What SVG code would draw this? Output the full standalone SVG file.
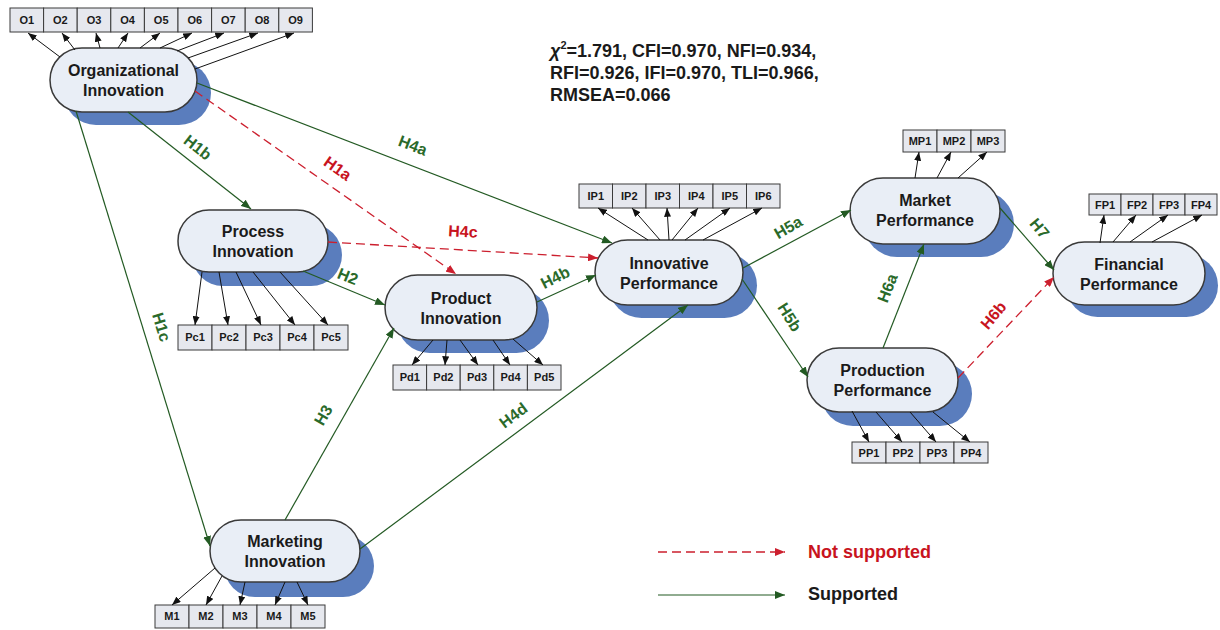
<svg xmlns="http://www.w3.org/2000/svg" width="1220" height="630" viewBox="0 0 1220 630">
<defs>
<marker id="ab" viewBox="0 0 10 8" refX="10" refY="4" markerWidth="9" markerHeight="7" markerUnits="userSpaceOnUse" orient="auto"><path d="M0,0 L10,4 L0,8 z" fill="#111"/></marker>
<marker id="ag" viewBox="0 0 10 8" refX="10" refY="4" markerWidth="10" markerHeight="8" markerUnits="userSpaceOnUse" orient="auto"><path d="M0,0 L10,4 L0,8 z" fill="#235a23"/></marker>
<marker id="ar" viewBox="0 0 10 8" refX="10" refY="4" markerWidth="10" markerHeight="8" markerUnits="userSpaceOnUse" orient="auto"><path d="M0,0 L10,4 L0,8 z" fill="#cc1f2e"/></marker>
</defs>
<style>
text{font-family:"Liberation Sans",Arial,sans-serif;font-weight:bold}
.sh{fill:#5a7dbd}
.nd{fill:#e9eef6;stroke:#3a3a3a;stroke-width:1.5}
.nt{font-size:16px;fill:#1a1a1a;text-anchor:middle}
.bx{fill:#e6e8ee;stroke:#3a3a3a;stroke-width:1}
.bt{font-size:11px;fill:#1a1a1a;text-anchor:middle}
.ind{stroke:#111;stroke-width:1;fill:none;marker-end:url(#ab)}
.sup{stroke:#235a23;stroke-width:1.2;fill:none;marker-end:url(#ag)}
.ns{stroke:#cc1f2e;stroke-width:1.3;fill:none;stroke-dasharray:9 5;marker-end:url(#ar)}
.lg{font-size:16px;fill:#2a6a2a;text-anchor:middle}
.lr{font-size:16px;fill:#c8141e;text-anchor:middle}
.st{font-size:18px;fill:#1a1a1a}
</style>
<rect width="1220" height="630" fill="#fff"/>

<g id="stats">
<text class="st" x="550" y="57"><tspan font-style="italic">χ</tspan><tspan font-size="11" dy="-8">2</tspan><tspan dy="8">=1.791, CFI=0.970, NFI=0.934,</tspan></text>
<text class="st" x="550" y="79">RFI=0.926, IFI=0.970, TLI=0.966,</text>
<text class="st" x="550" y="101">RMSEA=0.066</text>
</g>

<g id="node-org">
<rect class="sh" x="64" y="61" width="147" height="64" rx="32"/>
<rect class="nd" x="50" y="48" width="147" height="64" rx="32"/>
<text class="nt" x="123.5" y="76">Organizational</text>
<text class="nt" x="123.5" y="96">Innovation</text>
<g id="ind-O">
<rect class="bx" x="10" y="8" width="33.6" height="24"/><text class="bt" x="26.8" y="24">O1</text>
<rect class="bx" x="43.6" y="8" width="33.6" height="24"/><text class="bt" x="60.4" y="24">O2</text>
<rect class="bx" x="77.2" y="8" width="33.6" height="24"/><text class="bt" x="94" y="24">O3</text>
<rect class="bx" x="110.8" y="8" width="33.6" height="24"/><text class="bt" x="127.6" y="24">O4</text>
<rect class="bx" x="144.4" y="8" width="33.6" height="24"/><text class="bt" x="161.2" y="24">O5</text>
<rect class="bx" x="178" y="8" width="33.6" height="24"/><text class="bt" x="194.8" y="24">O6</text>
<rect class="bx" x="211.6" y="8" width="33.6" height="24"/><text class="bt" x="228.4" y="24">O7</text>
<rect class="bx" x="245.2" y="8" width="33.6" height="24"/><text class="bt" x="262" y="24">O8</text>
<rect class="bx" x="278.8" y="8" width="33.6" height="24"/><text class="bt" x="295.6" y="24">O9</text>
</g>
</g>

<g id="node-process">
<rect class="sh" x="192" y="224" width="150" height="62" rx="31"/>
<rect class="nd" x="178" y="210" width="150" height="62" rx="31"/>
<text class="nt" x="253" y="237">Process</text>
<text class="nt" x="253" y="257">Innovation</text>
<rect class="bx" x="178" y="325" width="34" height="25"/><text class="bt" x="195" y="341">Pc1</text>
<rect class="bx" x="212" y="325" width="34" height="25"/><text class="bt" x="229" y="341">Pc2</text>
<rect class="bx" x="246" y="325" width="34" height="25"/><text class="bt" x="263" y="341">Pc3</text>
<rect class="bx" x="280" y="325" width="34" height="25"/><text class="bt" x="297" y="341">Pc4</text>
<rect class="bx" x="314" y="325" width="34" height="25"/><text class="bt" x="331" y="341">Pc5</text>
</g>

<g id="node-product">
<rect class="sh" x="397" y="288" width="152" height="65" rx="32.5"/>
<rect class="nd" x="385" y="275" width="152" height="65" rx="32.5"/>
<text class="nt" x="461" y="303.5">Product</text>
<text class="nt" x="461" y="323.5">Innovation</text>
<rect class="bx" x="393" y="365" width="33.6" height="25"/><text class="bt" x="409.8" y="381">Pd1</text>
<rect class="bx" x="426.6" y="365" width="33.6" height="25"/><text class="bt" x="443.4" y="381">Pd2</text>
<rect class="bx" x="460.2" y="365" width="33.6" height="25"/><text class="bt" x="477" y="381">Pd3</text>
<rect class="bx" x="493.8" y="365" width="33.6" height="25"/><text class="bt" x="510.6" y="381">Pd4</text>
<rect class="bx" x="527.4" y="365" width="33.6" height="25"/><text class="bt" x="544.2" y="381">Pd5</text>
</g>

<g id="node-innovative">
<rect class="sh" x="609" y="253" width="148" height="65" rx="32.5"/>
<rect class="nd" x="595" y="240" width="148" height="65" rx="32.5"/>
<text class="nt" x="669" y="268.5">Innovative</text>
<text class="nt" x="669" y="288.5">Performance</text>
<rect class="bx" x="579" y="184" width="33.5" height="24"/><text class="bt" x="595.75" y="200">IP1</text>
<rect class="bx" x="612.5" y="184" width="33.5" height="24"/><text class="bt" x="629.25" y="200">IP2</text>
<rect class="bx" x="646" y="184" width="33.5" height="24"/><text class="bt" x="662.75" y="200">IP3</text>
<rect class="bx" x="679.5" y="184" width="33.5" height="24"/><text class="bt" x="696.25" y="200">IP4</text>
<rect class="bx" x="713" y="184" width="33.5" height="24"/><text class="bt" x="729.75" y="200">IP5</text>
<rect class="bx" x="746.5" y="184" width="33.5" height="24"/><text class="bt" x="763.25" y="200">IP6</text>
</g>

<g id="node-market">
<rect class="sh" x="864" y="191" width="150" height="66" rx="33"/>
<rect class="nd" x="850" y="178" width="150" height="66" rx="33"/>
<text class="nt" x="925" y="206">Market</text>
<text class="nt" x="925" y="226">Performance</text>
<rect class="bx" x="903" y="130" width="34" height="22"/><text class="bt" x="920" y="145">MP1</text>
<rect class="bx" x="937" y="130" width="34" height="22"/><text class="bt" x="954" y="145">MP2</text>
<rect class="bx" x="971" y="130" width="34" height="22"/><text class="bt" x="988" y="145">MP3</text>
</g>

<g id="node-financial">
<rect class="sh" x="1066" y="254" width="152" height="63" rx="31.5"/>
<rect class="nd" x="1053" y="242" width="152" height="63" rx="31.5"/>
<text class="nt" x="1129" y="269.5">Financial</text>
<text class="nt" x="1129" y="289.5">Performance</text>
<rect class="bx" x="1089" y="194" width="32" height="21"/><text class="bt" x="1105" y="208.5">FP1</text>
<rect class="bx" x="1121" y="194" width="32" height="21"/><text class="bt" x="1137" y="208.5">FP2</text>
<rect class="bx" x="1153" y="194" width="32" height="21"/><text class="bt" x="1169" y="208.5">FP3</text>
<rect class="bx" x="1185" y="194" width="32" height="21"/><text class="bt" x="1201" y="208.5">FP4</text>
</g>

<g id="node-production">
<rect class="sh" x="821" y="362" width="151" height="64" rx="32"/>
<rect class="nd" x="807" y="348" width="151" height="64" rx="32"/>
<text class="nt" x="882.5" y="376">Production</text>
<text class="nt" x="882.5" y="396">Performance</text>
<rect class="bx" x="852" y="442" width="34" height="21"/><text class="bt" x="869" y="456.5">PP1</text>
<rect class="bx" x="886" y="442" width="34" height="21"/><text class="bt" x="903" y="456.5">PP2</text>
<rect class="bx" x="920" y="442" width="34" height="21"/><text class="bt" x="937" y="456.5">PP3</text>
<rect class="bx" x="954" y="442" width="34" height="21"/><text class="bt" x="971" y="456.5">PP4</text>
</g>

<g id="node-marketing">
<rect class="sh" x="224" y="535" width="150" height="62" rx="31"/>
<rect class="nd" x="210" y="520" width="150" height="62" rx="31"/>
<text class="nt" x="285" y="547">Marketing</text>
<text class="nt" x="285" y="567">Innovation</text>
<rect class="bx" x="155" y="605" width="34" height="23"/><text class="bt" x="172" y="620">M1</text>
<rect class="bx" x="189" y="605" width="34" height="23"/><text class="bt" x="206" y="620">M2</text>
<rect class="bx" x="223" y="605" width="34" height="23"/><text class="bt" x="240" y="620">M3</text>
<rect class="bx" x="257" y="605" width="34" height="23"/><text class="bt" x="274" y="620">M4</text>
<rect class="bx" x="291" y="605" width="34" height="23"/><text class="bt" x="308" y="620">M5</text>
</g>

<g id="connectors">
<g id="indicator-arrows">
<path class="ind" d="M60,57 L28,33"/>
<path class="ind" d="M75,50 L62,33"/>
<path class="ind" d="M100,48 L96,33"/>
<path class="ind" d="M118,48 L128,33"/>
<path class="ind" d="M140,48 L160,33"/>
<path class="ind" d="M160,48 L192,33"/>
<path class="ind" d="M177,51 L224,33"/>
<path class="ind" d="M188,58 L258,33"/>
<path class="ind" d="M195,69 L294,33"/>
<path class="ind" d="M202,272 L195,325"/>
<path class="ind" d="M219,272 L228,325"/>
<path class="ind" d="M236,272 L261,325"/>
<path class="ind" d="M253,272 L295,325"/>
<path class="ind" d="M280,272 L328,325"/>
<path class="ind" d="M433,340 L412,365"/>
<path class="ind" d="M447,340 L445,365"/>
<path class="ind" d="M460,340 L478,365"/>
<path class="ind" d="M493,340 L510,365"/>
<path class="ind" d="M513,339 L543,365"/>
<path class="ind" d="M648,240 L598,208"/>
<path class="ind" d="M660,240 L632,208"/>
<path class="ind" d="M669,240 L667,208"/>
<path class="ind" d="M672,240 L698,208"/>
<path class="ind" d="M685,240 L730,208"/>
<path class="ind" d="M703,240 L762,208"/>
<path class="ind" d="M915,178 L919,152"/>
<path class="ind" d="M937,178 L951,152"/>
<path class="ind" d="M958,178 L987,152"/>
<path class="ind" d="M1100,243 L1104,215"/>
<path class="ind" d="M1113,242 L1136,215"/>
<path class="ind" d="M1130,242 L1168,215"/>
<path class="ind" d="M1152,242 L1202,215"/>
<path class="ind" d="M852,411 L869,442"/>
<path class="ind" d="M876,412 L902,442"/>
<path class="ind" d="M910,412 L936,442"/>
<path class="ind" d="M933,412 L970,442"/>
<path class="ind" d="M215,568 L172,605"/>
<path class="ind" d="M222,576 L206,605"/>
<path class="ind" d="M245,582 L240,605"/>
<path class="ind" d="M285,582 L275,605"/>
<path class="ind" d="M297,582 L308,605"/>
</g>
<g id="hypotheses">
<path class="sup" d="M128,112 L251,209"/>
<path class="ns" d="M195,91 L456,274"/>
<path class="sup" d="M197,83 L612,243"/>
<path class="ns" d="M328,242 L598,258"/>
<path class="sup" d="M303,271 L385,305"/>
<path class="sup" d="M537,302 L596,275"/>
<path class="sup" d="M76,111 L210,546"/>
<path class="sup" d="M285,520 L394,328"/>
<path class="sup" d="M360,549 L688,305"/>
<path class="sup" d="M743,268 L851,210"/>
<path class="sup" d="M742,279 L808,377"/>
<path class="sup" d="M883,348 L924,244"/>
<path class="ns" d="M958,378 L1054,277"/>
<path class="sup" d="M1000,208 L1054,270"/>
</g>
<g id="hyp-labels">
<text class="lg" transform="translate(198,147) rotate(38)" dy="6">H1b</text>
<text class="lr" transform="translate(338,168) rotate(35)" dy="6">H1a</text>
<text class="lg" transform="translate(413,145) rotate(21)" dy="6">H4a</text>
<text class="lr" transform="translate(463,231) rotate(3)" dy="6">H4c</text>
<text class="lg" transform="translate(348,276) rotate(22)" dy="6">H2</text>
<text class="lg" transform="translate(555,277) rotate(-27)" dy="6">H4b</text>
<text class="lg" transform="translate(162,327) rotate(73)" dy="6">H1c</text>
<text class="lg" transform="translate(323,415) rotate(-60)" dy="6">H3</text>
<text class="lg" transform="translate(513,415) rotate(-37)" dy="6">H4d</text>
<text class="lg" transform="translate(788,227) rotate(-30)" dy="6">H5a</text>
<text class="lg" transform="translate(790,317) rotate(58)" dy="6">H5b</text>
<text class="lg" transform="translate(887,288) rotate(-69)" dy="6">H6a</text>
<text class="lr" transform="translate(993,315) rotate(-50)" dy="6">H6b</text>
<text class="lg" transform="translate(1040,228) rotate(50)" dy="6">H7</text>
</g>
</g>

<g id="legend">
<path class="ns" d="M658,552 L785,552"/>
<text x="808" y="558" font-size="18" fill="#c8141e">Not supported</text>
<path class="sup" d="M658,595 L785,595"/>
<text x="808" y="600" font-size="18" fill="#1a1a1a">Supported</text>
</g>
</svg>
